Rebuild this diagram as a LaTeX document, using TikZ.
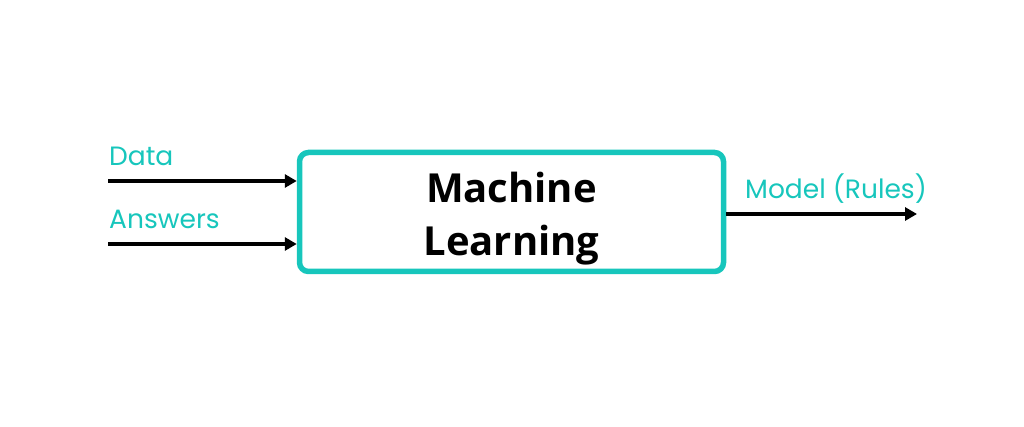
\documentclass[tikz,border=0pt]{standalone}
\usepackage{fontspec}
\setmainfont{Open Sans}
\newfontfamily\lblfont{Poppins}
\usetikzlibrary{arrows.meta}
\definecolor{teal1}{HTML}{17C6BC}
\tikzset{
  flow/.style={line width=3.4pt, -{Triangle[length=12pt,width=13pt]}},
  lbl/.style={text=teal1, font=\lblfont\fontsize{26.5}{30}\selectfont, anchor=base west, inner sep=0pt},
  mlbox/.style={draw=teal1, line width=5.5pt, rounded corners=9pt, minimum width=424pt, minimum height=119pt, inner sep=0pt}
}
\begin{document}
\begin{tikzpicture}[x=1pt,y=-1pt]
\useasboundingbox (0,0) rectangle (1024,427);
\node[mlbox] (ml) at (511.5,212) {};
\node[font=\bfseries\fontsize{40}{53}\selectfont, align=center, anchor=base, inner sep=0pt] (mlt) at (511.5,256) {Machine\\Learning};
\coordinate (d0) at (108,181);
\coordinate (a0) at (108,244);
\coordinate (m1) at (917,214);
\draw[flow] (d0) -- (d0 -| ml.west);
\draw[flow] (a0) -- (a0 -| ml.west);
\draw[flow] (m1 -| ml.east) -- (m1);
\node[lbl] (dl) at (109,166) {Data};
\node[lbl] (al) at (109,229) {Answers};
\node[lbl] (ml2) at (745,199) {Model (Rules)};
\end{tikzpicture}
\end{document}
